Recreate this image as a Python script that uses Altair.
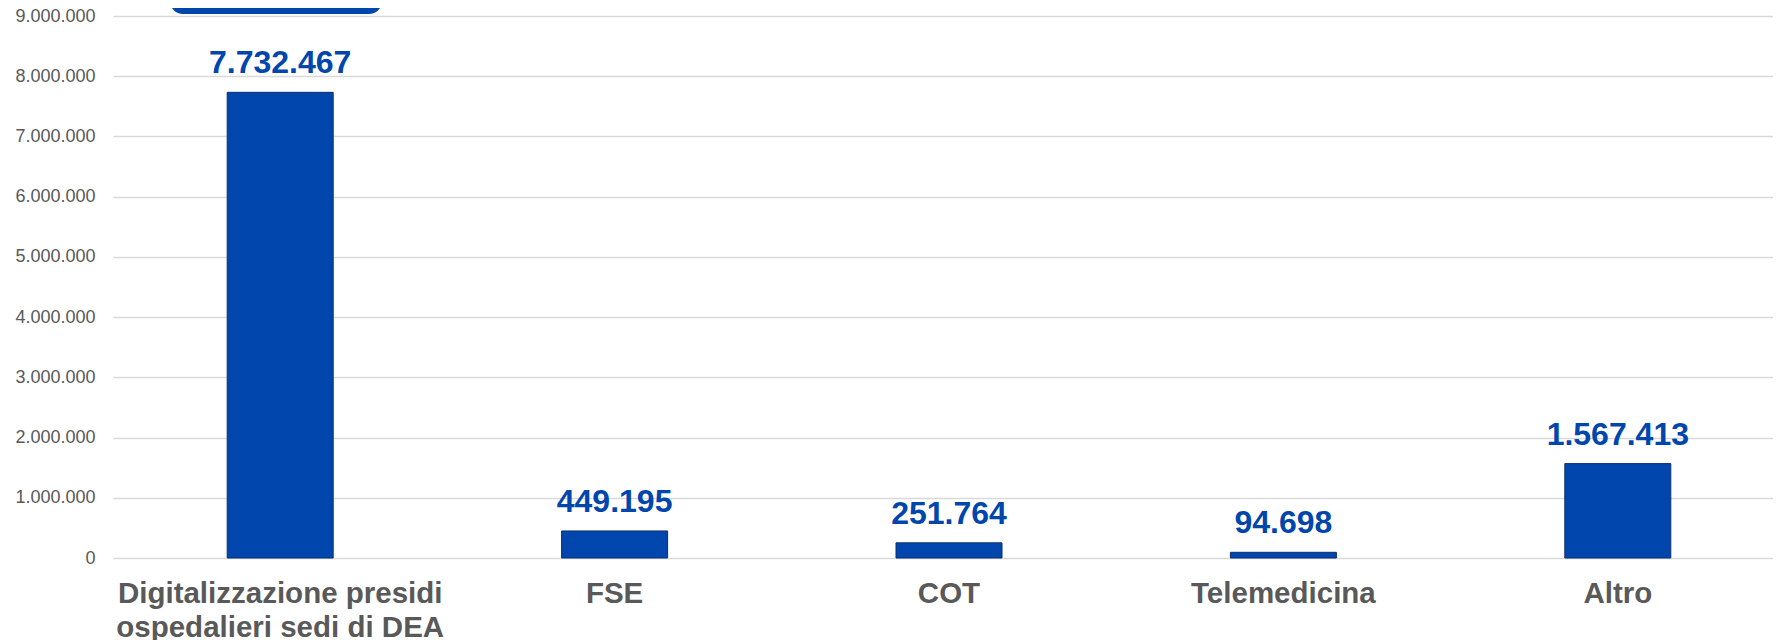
import altair as alt
import pandas as pd

categories = [
    "Digitalizzazione presidi\nospedalieri sedi di DEA",
    "FSE",
    "COT",
    "Telemedicina",
    "Altro",
]
values = [7732467, 449195, 251764, 94698, 1567413]
y_ticks = [0, 1000000, 2000000, 3000000, 4000000, 5000000, 6000000, 7000000, 8000000, 9000000]

df = pd.DataFrame({"cat": categories, "val": values})

BLUE = "#0046AD"
GRAY = "#595959"

base = alt.Chart(df).encode(
    x=alt.X(
        "cat:N",
        sort=None,
        scale=alt.Scale(paddingInner=0, paddingOuter=0, range=[0, 1672]),
        axis=alt.Axis(
            title=None,
            labelAngle=0,
            labelFontSize=29.5,
            labelFontWeight="bold",
            labelColor=GRAY,
            labelFont="Liberation Sans",
            labelLimit=0,
            labelExpr="split(datum.label, '\\n')",
            labelLineHeight=34,
            labelBaseline="alphabetic",
            labelPadding=44,
            ticks=False,
            tickSize=0,
            domain=False,
            grid=False,
        ),
    ),
    y=alt.Y(
        "val:Q",
        scale=alt.Scale(domain=[0, 9000000], nice=False),
        axis=alt.Axis(
            title=None,
            values=y_ticks,
            labelExpr="format(datum.value, ',d')",
            labelFontSize=18,
            labelColor=GRAY,
            labelFont="Liberation Sans",
            labelPadding=18,
            ticks=False,
            tickSize=0,
            domain=False,
            grid=True,
            gridColor="#D9D9D9",
            gridWidth=1.5,
        ),
    ),
)

bars = base.mark_bar(size=106, color=BLUE, stroke="#0B2F6E", strokeWidth=1)

labels = base.mark_text(
    dy=-19,
    baseline="alphabetic",
    align="center",
    fontSize=32,
    fontWeight="bold",
    font="Liberation Sans",
    color=BLUE,
).encode(text=alt.Text("val:Q", format=","))

box_df = pd.DataFrame({"k": [0]})
box = alt.Chart(box_df).mark_rect(
    fill="#F2F2F2", stroke=BLUE, strokeWidth=6, cornerRadius=10
).encode(
    x=alt.value(60), x2=alt.value(266), y=alt.value(-60), y2=alt.value(-5)
)

chart = alt.layer(bars, labels, box).properties(
    width=1660,
    height=542,
    autosize=alt.AutoSizeParams(type="none"),
    padding={"left": 105, "top": 8, "right": 0, "bottom": 82},
).configure(
    locale={"number": {"decimal": ",", "thousands": ".", "grouping": [3], "currency": ["€", ""]}}
).configure_view(stroke=None)

chart.save("out.html", embed_options={"renderer": "svg", "actions": False})
